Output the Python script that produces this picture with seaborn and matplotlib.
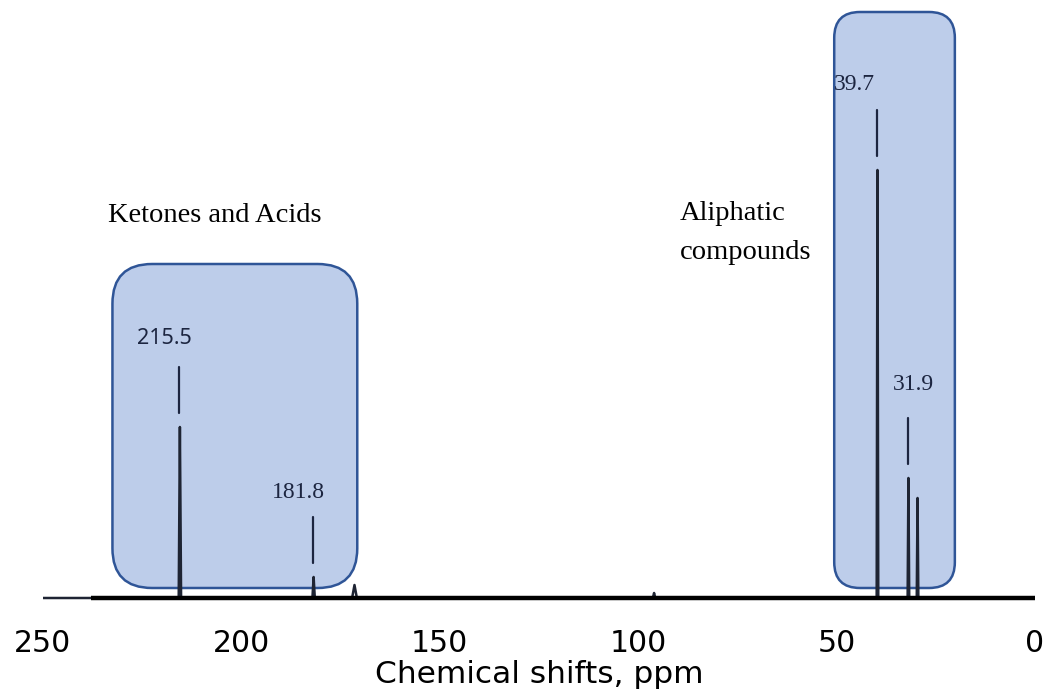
import numpy as np
import pandas as pd
import matplotlib
matplotlib.use("Agg")
import matplotlib.pyplot as plt
import seaborn as sns
from matplotlib.patches import FancyBboxPatch

# Peak list (ppm, relative intensity)
peak_ppm = [215.5, 181.8, 171.5, 96.0, 39.7, 31.9, 29.6]
peak_height = [171, 21, 13, 5, 428, 120, 100]
peak_halfwidth = [0.3, 0.3, 0.6, 0.3, 0.2, 0.2, 0.2]

# Labelled peaks
label_text = ["215.5", "181.8", "39.7", "31.9"]
label_ppm = [215.5, 181.8, 39.7, 31.9]
label_height = [171, 21, 428, 120]

# Shaded regions (ppm range, intensity range)
region_names = ["Ketones and Acids", "Aliphatic\ncompounds"]
region_ppm = [(232.5, 170.8), (50.6, 20.2)]
region_int = [(10, 334), (10, 586)]

xticks = [250, 200, 150, 100, 50, 0]

sns.set_theme(style="white")

# build spectrum trace from the peak list
xs = [250.0, 0.0]
ys = [0.0, 0.0]
for p, h, w in zip(peak_ppm, peak_height, peak_halfwidth):
    xs += [p + w, p, p - w]
    ys += [0.0, h, 0.0]
spec = pd.DataFrame({"ppm": xs, "intensity": ys}).sort_values("ppm", ascending=False)

fig = plt.figure(figsize=(10.51, 6.99), dpi=100)
ax = fig.add_axes([43 / 1051, 1 - 610 / 699, (1035 - 43) / 1051, 610 / 699])

# rounded shaded boxes
aspect = 992 / 250
radii = [10.0, 6.5]
for (x0, x1), (y0, y1), r in zip(region_ppm, region_int, radii):
    box = FancyBboxPatch((x1, y0), x0 - x1, y1 - y0,
                         boxstyle=f"round,pad=0,rounding_size={r}",
                         mutation_aspect=aspect,
                         facecolor="#bdcdea", edgecolor="#2f5597", lw=1.8,
                         zorder=2)
    ax.add_patch(box)

sns.lineplot(data=spec, x="ppm", y="intensity", sort=False, color="#1e2433",
             lw=1.8, ax=ax, zorder=3)
# thick baseline
ax.plot([238, 0], [0, 0], color="black", lw=3.2, zorder=3, solid_capstyle="butt")

ax.set_xlim(250, 0)
ax.set_ylim(-12, 598)

# peak labels with leader lines
label_dx = [3.8, 3.9, 5.7, -1.2]
label_dy = [88, 84, 86, 93]
label_fonts = [["Noto Sans", "DejaVu Sans"], ["Liberation Serif"],
               ["Liberation Serif"], ["Liberation Serif"]]
label_sizes = [15.5, 17, 17, 17]
for t, p, h, dx, dy, fam, fs in zip(label_text, label_ppm, label_height,
                                    label_dx, label_dy, label_fonts, label_sizes):
    ax.plot([p + 0.2, p + 0.2], [h + 14, h + 60], color="#1c2540", lw=1.6, zorder=5)
    ax.text(p + dx, h + dy, t, ha="center", va="center", fontsize=fs,
            family=fam, color="#1c2540", zorder=5)

# region titles
ax.text(233.6, 383, region_names[0], ha="left", va="center",
        fontsize=20.5, family="Liberation Serif", color="black")
ax.text(89.5, 365, region_names[1], ha="left", va="center", linespacing=1.75,
        fontsize=20.5, family="Liberation Serif", color="black")

for s in ax.spines.values():
    s.set_visible(False)
ax.set_yticks([])
ax.set_xticks(xticks)
ax.set_xticklabels([str(v) for v in xticks])
ax.tick_params(axis="x", length=0, pad=14, labelsize=21.5, labelcolor="black")
ax.set_xlabel("Chemical shifts, ppm", fontsize=22.5, labelpad=1, color="black")
ax.set_ylabel("")

fig.savefig("out.png", dpi=100)
